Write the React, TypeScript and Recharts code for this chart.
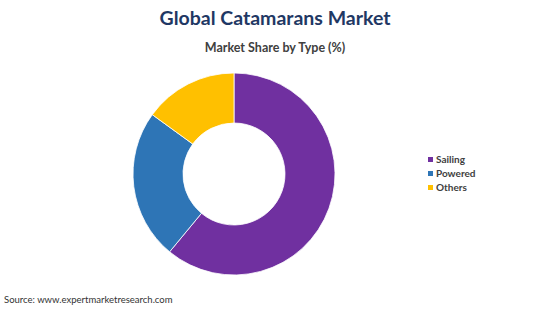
import React from "react";
import { PieChart, Pie, Cell, Legend } from "recharts";

const categories = ["Sailing", "Powered", "Others"];
const shares = [61, 24, 15];
const colors = ["#7030A0", "#2E75B6", "#FFC000"];

const data = categories.map((name, i) => ({ name, value: shares[i] }));

const FONT = "Lato, 'Liberation Sans', sans-serif";

const renderLegend = () => (
  <div style={{ fontFamily: FONT, fontSize: 10, fontWeight: 700, color: "#404040" }}>
    {categories.map((c, i) => (
      <div key={c} style={{ display: "flex", alignItems: "center", height: 14 }}>
        <span style={{ display: "inline-block", width: 5, height: 5, background: colors[i], marginRight: 3 }} />
        <span>{c}</span>
      </div>
    ))}
  </div>
);

export default function App() {
  return (
    <div style={{ position: "absolute", left: 0, top: 0, width: 550, height: 309, background: "#fff" }}>
      <div style={{ position: "absolute", left: 0, top: 6, width: 550, textAlign: "center", fontFamily: FONT, fontWeight: 700, fontSize: 19.5, color: "#1F3864" }}>
        Global Catamarans Market
      </div>
      <div style={{ position: "absolute", left: 0, top: 40, width: 550, textAlign: "center", fontFamily: FONT, fontWeight: 700, fontSize: 12.5, color: "#404040" }}>
        Market Share by Type (%)
      </div>
      <PieChart width={550} height={309} margin={{ top: 0, right: 0, bottom: 0, left: 0 }}>
        <Pie
          data={data}
          dataKey="value"
          nameKey="name"
          cx={234}
          cy={174}
          innerRadius={51}
          outerRadius={101}
          startAngle={90}
          endAngle={-270}
          stroke="#ffffff"
          strokeWidth={0.8}
          isAnimationActive={false}
        >
          {data.map((d, i) => (
            <Cell key={d.name} fill={colors[i]} />
          ))}
        </Pie>
        <Legend
          content={renderLegend}
          layout="vertical"
          wrapperStyle={{ position: "absolute", left: 428, top: 152, width: 80 }}
        />
      </PieChart>
      <div style={{ position: "absolute", left: 4, top: 294, fontFamily: FONT, fontSize: 9.5, color: "#333333" }}>
        Source: www.expertmarketresearch.com
      </div>
    </div>
  );
}
